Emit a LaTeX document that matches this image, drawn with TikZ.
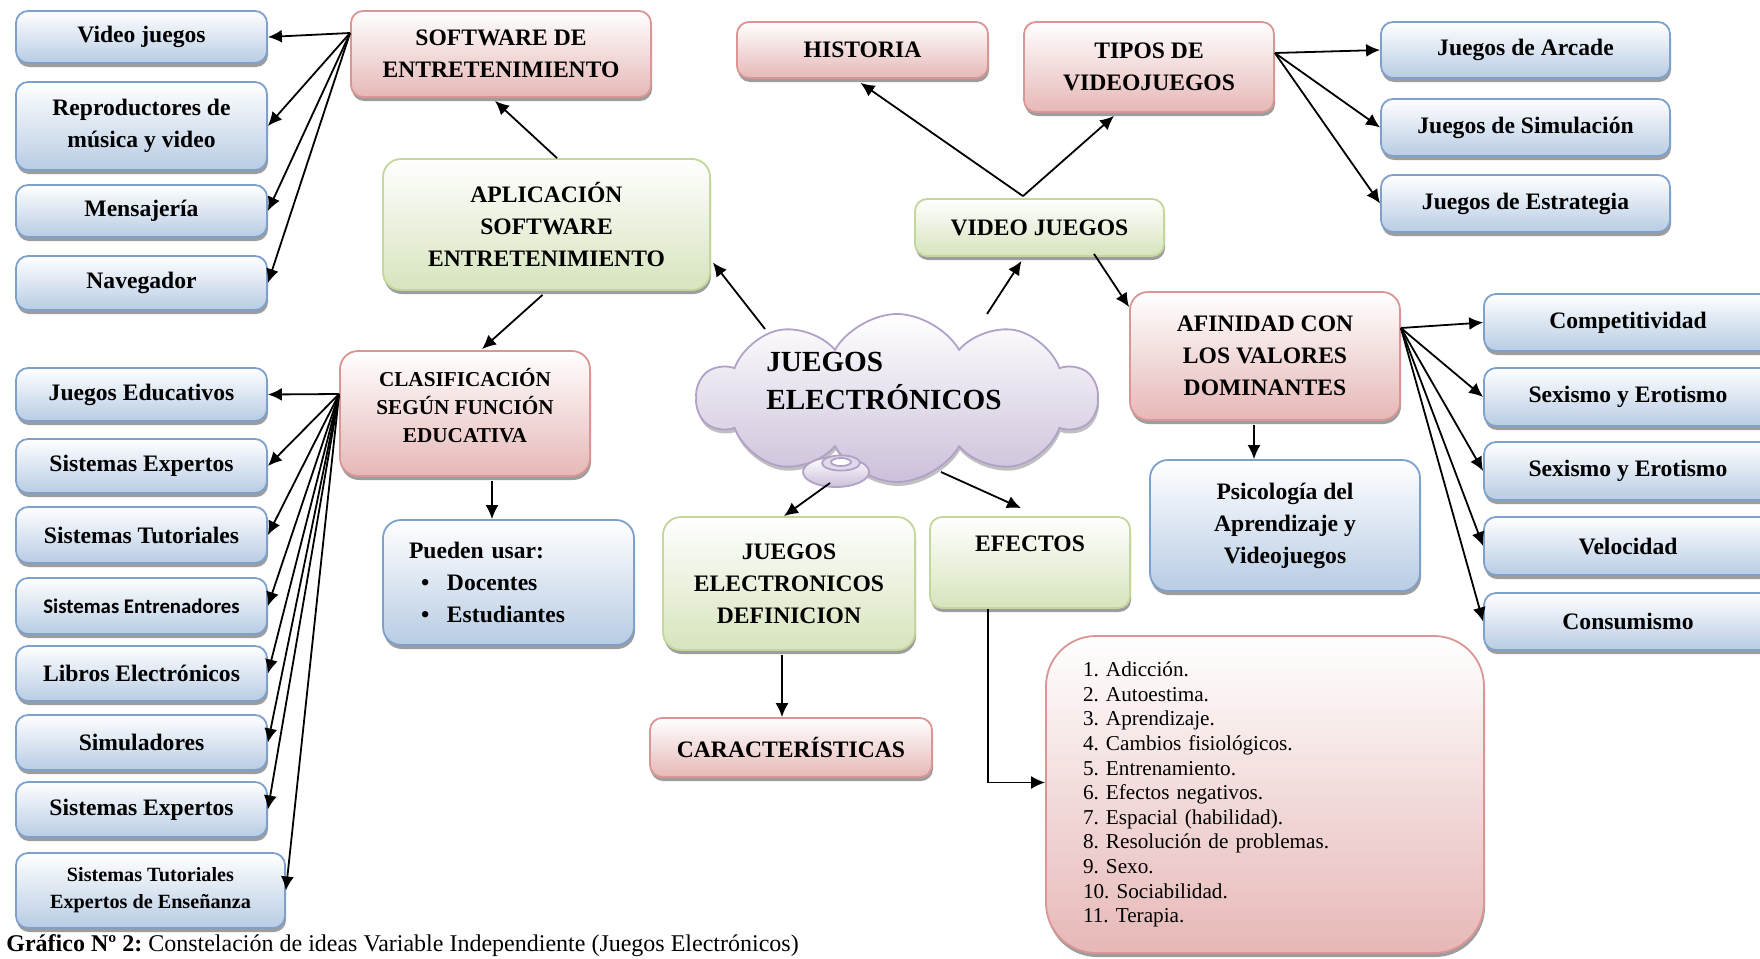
\documentclass[tikz,border=0pt]{standalone}
\usepackage{fontspec}
\setmainfont{Liberation Serif}
\newfontfamily\calibfont{Carlito}
\usepackage{tikz}
\usetikzlibrary{arrows.meta,positioning,shapes.symbols,shadows,calc}
\definecolor{boxblue}{RGB}{184,204,228}
\definecolor{lineblue}{RGB}{126,161,204}
\definecolor{boxred}{RGB}{230,184,183}
\definecolor{linered}{RGB}{217,150,148}
\definecolor{boxgreen}{RGB}{215,228,189}
\definecolor{linegreen}{RGB}{195,214,155}
\definecolor{boxlila}{RGB}{204,192,218}
\definecolor{linelila}{RGB}{178,161,199}
\frenchspacing

\begin{document}
\begin{tikzpicture}[x=0.5pt,y=-0.5pt,
   bx/.style={rounded corners=6pt,line width=0.9pt,align=center,inner sep=2pt,
              font=\fontsize{11.8}{16}\selectfont\bfseries,
              drop shadow={shadow xshift=0.5pt,shadow yshift=-2pt,fill=black!45,opacity=0.85}},
   bbl/.style={bx,draw=lineblue,top color=white,bottom color=boxblue},
   brd/.style={bx,draw=linered,top color=white,bottom color=boxred},
   bgr/.style={bx,draw=linegreen,top color=white,bottom color=boxgreen},
   lc/.style={bbl,minimum width=125.5pt,minimum height=27pt},
   rt/.style={bbl,minimum width=144.5pt,minimum height=28.5pt},
   rb/.style={bbl,minimum width=144pt,minimum height=29pt},
   arr/.style={-{Latex[length=7pt,width=6.5pt]},line width=0.9pt}]
  \path[use as bounding box,fill=white] (0,0) rectangle (1760,958);

  % left column
  \node[lc,minimum height=26pt] (vjue) at (141.5,37) {Video juegos};
  \node[lc,minimum height=44pt] (repr) at (141.5,126) {Reproductores de\\música y video};
  \node[lc,minimum height=26pt] (mens) at (141.5,211) {Mensajería};
  \node[lc] (nave) at (141.5,283) {Navegador};
  \node[lc,minimum height=26.5pt] (jedu) at (141.5,394.5) {Juegos Educativos};
  \node[lc] (sexp) at (141.5,466) {Sistemas Expertos};
  \node[lc,minimum height=28pt] (stut) at (141.5,535) {Sistemas Tutoriales};
  \node[lc,minimum height=28pt,font=\calibfont\fontsize{10.4}{12}\selectfont\bfseries] (sent) at (141.5,606) {Sistemas Entrenadores};
  \node[lc,minimum height=27.5pt] (libr) at (141.5,673.5) {Libros Electrónicos};
  \node[lc,minimum height=27.5pt] (simu) at (141.5,742.5) {Simuladores};
  \node[lc,minimum height=27.5pt] (sexq) at (141.5,809.5) {Sistemas Expertos};
  \node[bbl,minimum width=134.5pt,minimum height=37.5pt,font=\fontsize{10.1}{13.5}\selectfont\bfseries] (stex) at (150.5,890.5) {Sistemas Tutoriales\\Expertos de Enseñanza};

  % centre
  \node[brd,minimum width=150pt,minimum height=43pt] (soft) at (501,54) {SOFTWARE DE\\ENTRETENIMIENTO};
  \node[bgr,rounded corners=9pt,minimum width=163.5pt,minimum height=65.5pt] (apl) at (546.5,224.5) {APLICACIÓN\\SOFTWARE\\ENTRETENIMIENTO};
  \node[brd,rounded corners=9pt,minimum width=125pt,minimum height=62.5pt,text depth=8pt,font=\fontsize{10.6}{14}\selectfont\bfseries] (clas) at (465,413.5) {CLASIFICACIÓN\\SEGÚN FUNCIÓN\\EDUCATIVA};
  \node[bbl,rounded corners=9pt,minimum width=125.5pt,minimum height=62.5pt,text width=99.5pt,inner sep=0pt,align=left] (pued) at (508.5,582.5) {Pueden usar:\\\makebox[19pt][l]{\hspace{6pt}\textbullet}Docentes\\\makebox[19pt][l]{\hspace{6pt}\textbullet}Estudiantes};
  \node[brd,minimum width=125.5pt,minimum height=28pt] (hist) at (862.5,50) {HISTORIA};
  \node[brd,minimum width=125pt,minimum height=45pt] (tipo) at (1149,67) {TIPOS DE\\VIDEOJUEGOS};
  \node[bgr,minimum width=124.5pt,minimum height=28.5pt] (vjc) at (1039.5,227.5) {VIDEO JUEGOS};
  \node[cloud,cloud puffs=10,cloud puff arc=120,aspect=2.4,draw=linelila,line width=0.9pt,
        top color=white,bottom color=boxlila,minimum width=200pt,minimum height=84pt,inner sep=0pt,
        drop shadow={shadow xshift=0.5pt,shadow yshift=-2pt,fill=black!35,opacity=0.7}] (nube) at (897,398) {};
  \draw[draw=linelila,line width=0.9pt,top color=white,bottom color=boxlila] (836,472) ellipse [x radius=16.5pt,y radius=7.5pt];
  \draw[draw=linelila,line width=0.9pt,fill=boxlila!60] (841,463) ellipse [x radius=9.5pt,y radius=3.8pt];
  \draw[draw=linelila,line width=0.9pt,fill=white] (841,462) ellipse [x radius=5pt,y radius=2pt];
  \node[align=left,inner sep=0pt,font=\fontsize{14.6}{19}\selectfont\bfseries] (nubet) at (884,381) {JUEGOS\\ELECTRÓNICOS};
  \node[bgr,rounded corners=9pt,minimum width=126pt,minimum height=66.5pt] (jed) at (789,583.5) {JUEGOS\\ELECTRONICOS\\DEFINICION};
  \node[bgr,minimum width=100pt,minimum height=45.5pt,text depth=19pt] (efec) at (1030,562.5) {EFECTOS};
  \node[brd,minimum width=141pt,minimum height=29.5pt] (carac) at (791,747.5) {CARACTERÍSTICAS};
  \node[brd,rounded corners=25pt,minimum width=219pt,minimum height=158.5pt,text width=182pt,inner sep=0pt,align=left,
        font=\fontsize{10.6}{12.3}\selectfont] (lista) at (1265,794.5)
        {1. Adicción.\\2. Autoestima.\\3. Aprendizaje.\\4. Cambios fisiológicos.\\5. Entrenamiento.\\6. Efectos negativos.\\7. Espacial (habilidad).\\8. Resolución de problemas.\\9. Sexo.\\10. Sociabilidad.\\11. Terapia.};
  \node[brd,rounded corners=9pt,minimum width=135pt,minimum height=64pt] (afin) at (1265,356) {AFINIDAD CON\\LOS VALORES\\DOMINANTES};
  \node[bbl,rounded corners=9pt,minimum width=135pt,minimum height=65.5pt] (psi) at (1285,525.5) {Psicología del\\Aprendizaje y\\Videojuegos};

  % right
  \node[rt,minimum height=28pt] (arca) at (1525.5,50) {Juegos de Arcade};
  \node[rt] (simj) at (1525.5,127.5) {Juegos de Simulación};
  \node[rt] (estr) at (1525.5,203.5) {Juegos de Estrategia};
  \node[rb,minimum height=28.5pt] (comp) at (1628,322.5) {Competitividad};
  \node[rb] (sexa) at (1628,397) {Sexismo y Erotismo};
  \node[rb] (sexb) at (1628,471) {Sexismo y Erotismo};
  \node[rb] (velo) at (1628,546) {Velocidad};
  \node[rb,minimum height=28.5pt] (cons) at (1628,621.5) {Consumismo};

  \node[anchor=base west,inner sep=0pt,font=\fontsize{12}{14}\selectfont] (capt) at (6,951)
        {\textbf{Gráfico Nº 2:} Constelación de ideas Variable Independiente (Juegos Electrónicos)};

  % arrows
  \coordinate (so) at ([yshift=10.5pt]soft.west);
  \draw[arr] (so)--(vjue.east);
  \draw[arr] (so)--(repr.east);
  \draw[arr] (so)--(mens.east);
  \draw[arr] (so)--(nave.east);
  \coordinate (co) at ([yshift=9.75pt]clas.west);
  \draw[arr] (co)--(jedu.east);
  \draw[arr] (co)--(sexp.east);
  \draw[arr] (co)--(stut.east);
  \draw[arr] (co)--(sent.east);
  \draw[arr] (co)--(libr.east);
  \draw[arr] (co)--(simu.east);
  \draw[arr] (co)--(sexq.east);
  \draw[arr] (co)--(stex.east);
  \coordinate (to) at ([yshift=7pt]tipo.east);
  \draw[arr] (to)--(arca.west);
  \draw[arr] (to)--(simj.west);
  \draw[arr] (to)--(estr.west);
  \coordinate (ao) at ([yshift=14pt]afin.east);
  \draw[arr] (ao)--(comp.west);
  \draw[arr] (ao)--(sexa.west);
  \draw[arr] (ao)--(sexb.west);
  \draw[arr] (ao)--(velo.west);
  \draw[arr] (ao)--(cons.west);

  \draw[arr] ($(apl.north)+(10.5,0)$)--($(soft.south)+(-6,3)$);
  \draw[arr] ($(apl.south)+(-4,4)$)--($(clas.north)+(17,-1)$);
  \coordinate (cs) at ($(clas.south)+(27,4)$);
  \draw[arr] (cs)--(cs |- pued.north);
  \draw[arr] ($(nube.center)+(-132,-69)$)--($(apl.east)+(2,38)$);
  \draw[arr] ($(nube.center)+(90,-84)$)--($(vjc.south)+(-18,4)$);
  \coordinate (vo) at ($(vjc.north)+(-16.5,-2)$);
  \draw[arr] (vo)--($(hist.south)+(-2,4)$);
  \draw[arr] (vo)--($(tipo.south)+(-35,3)$);
  \draw[arr] ($(vjc.south)+(54.5,-3)$)--($(afin.north west)+(0,16)$);
  \draw[arr] ($(nube.center)+(-67,85)$)--($(jed.north)+(-5,0)$);
  \draw[arr] ($(nube.center)+(44,74)$)--($(efec.north)+(-9,-8)$);
  \coordinate (js) at ($(jed.south)+(-7,4)$);
  \draw[arr] (js)--(js |- carac.north);
  \draw[arr] ($(efec.south)+(-42,0)$) |- ($(lista.west)+(0,-12)$);
  \coordinate (as) at ($(afin.south)+(-11,4)$);
  \draw[arr] (as)--(as |- psi.north);
\end{tikzpicture}
\end{document}
